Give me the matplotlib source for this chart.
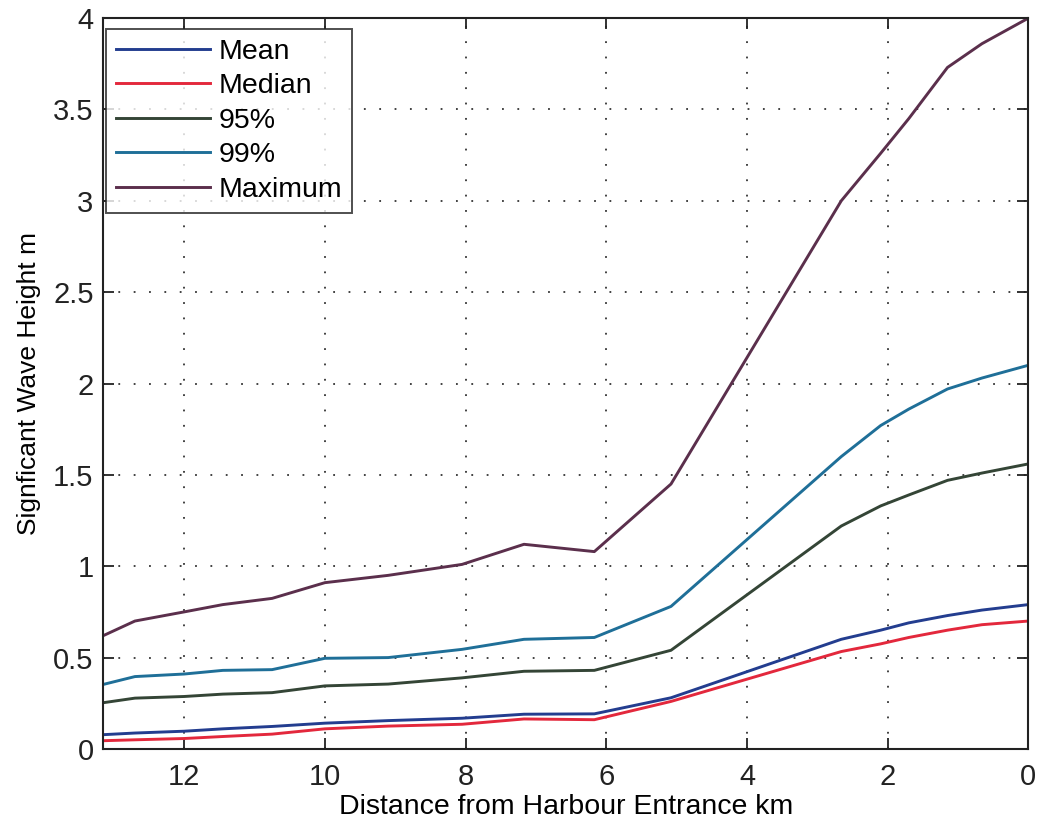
import matplotlib
matplotlib.use("Agg")
import matplotlib.pyplot as plt
from matplotlib.ticker import FormatStrFormatter, MultipleLocator

# distance from harbour entrance (km) and significant wave height (m)
distance_km = [13.15, 12.7, 12.0, 11.45, 10.75, 10.0, 9.1, 8.05, 7.17, 6.17,
               5.08, 2.66, 2.1, 1.7, 1.15, 0.66, 0.0]
mean_hs = [0.078, 0.087, 0.097, 0.11, 0.123, 0.141, 0.155, 0.168, 0.19, 0.192,
           0.28, 0.60, 0.65, 0.69, 0.73, 0.76, 0.79]
median_hs = [0.045, 0.05, 0.057, 0.068, 0.081, 0.11, 0.125, 0.135, 0.164, 0.16,
             0.26, 0.533, 0.575, 0.61, 0.65, 0.68, 0.70]
p95_hs = [0.253, 0.278, 0.287, 0.30, 0.308, 0.345, 0.355, 0.389, 0.425, 0.43,
          0.54, 1.22, 1.33, 1.39, 1.47, 1.51, 1.56]
p99_hs = [0.353, 0.396, 0.41, 0.43, 0.434, 0.496, 0.50, 0.545, 0.60, 0.61,
          0.78, 1.60, 1.77, 1.86, 1.97, 2.03, 2.10]
max_hs = [0.62, 0.70, 0.75, 0.79, 0.824, 0.91, 0.95, 1.01, 1.12, 1.08,
          1.45, 3.0, 3.26, 3.45, 3.73, 3.86, 4.0]

series = [
    ("Mean", mean_hs, "#233d8f"),
    ("Median", median_hs, "#e3283c"),
    ("95%", p95_hs, "#344536"),
    ("99%", p99_hs, "#1f6f98"),
    ("Maximum", max_hs, "#5b2f4c"),
]

plt.rcParams["font.family"] = ["Liberation Sans", "DejaVu Sans"]

fig = plt.figure(figsize=(10.43, 8.23), dpi=100)
ax = fig.add_axes([0.099, 0.090, 0.887, 0.888])

for name, vals, col in series:
    ax.plot(distance_km, vals, color=col, lw=2.1, label=name)

ax.set_xlim(13.15, 0)
ax.set_ylim(0, 4)
ax.xaxis.set_major_locator(MultipleLocator(2))
ax.yaxis.set_major_locator(MultipleLocator(0.5))
ax.yaxis.set_major_formatter(FormatStrFormatter("%g"))
ax.tick_params(direction="in", length=8, width=1.3, top=True, right=True,
               labelsize=21, pad=7, colors="#222222")
ax.tick_params(axis="x", pad=10)
ax.grid(True, linestyle=(0, (1, 7.5)), color="#333333", lw=1.3)
for s in ax.spines.values():
    s.set_linewidth(1.5)
    s.set_color("#222222")

ax.set_xlabel("Distance from Harbour Entrance km", fontsize=20.5, labelpad=2)
ax.set_ylabel("Signficant Wave Height m", fontsize=19, labelpad=9)

leg = ax.legend(loc="upper left", fontsize=20.5, frameon=True, fancybox=False,
                edgecolor="#222222", handlelength=3.3, handletextpad=0.3,
                labelspacing=0.3, borderpad=0.35, bbox_to_anchor=(-0.012, 1.005))
leg.get_frame().set_linewidth(1.4)

fig.savefig("out.png", dpi=100, facecolor="white")
